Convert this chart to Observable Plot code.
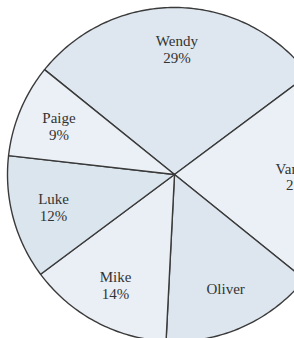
<!DOCTYPE html>
<html>
<head>
<meta charset="utf-8">
<script src="https://cdn.jsdelivr.net/npm/d3@7"></script>
<script src="https://cdn.jsdelivr.net/npm/@observablehq/plot@0.6"></script>
<style>
  html, body { margin: 0; padding: 0; background: #fff; }
  #chart svg { display: block; }
</style>
</head>
<body>
<div id="chart"></div>
<script>
// Data
const names = ["Wendy", "Vanessa", "Oliver", "Mike", "Luke", "Paige"];
const values = [29, 21, 15, 14, 12, 9];
const pctLabels = ["29%", "21%", "", "14%", "12%", "9%"];
const colors = ["#dee7ef", "#ebf0f6", "#dde6ee", "#e9eff5", "#dbe5ee", "#ebf0f6"];

// Layout
const W = 294, H = 338;
const cx = 174, cy = 174, R = 167;
const startDeg = -51.1;

const total = d3.sum(values);
const slices = [];
const labels = [];
let acc = startDeg;
names.forEach((n, i) => {
  const span = values[i] / total * 360;
  const a0 = acc, a1 = acc + span;
  acc = a1;
  slices.push({name: n, x: 0, y: 0});
  const steps = Math.max(2, Math.ceil(span));
  for (let k = 0; k <= steps; k++) {
    const a = (a0 + (a1 - a0) * k / steps) * Math.PI / 180;
    slices.push({name: n, x: Math.sin(a), y: Math.cos(a)});
  }
  const am = (a0 + a1) / 2 * Math.PI / 180;
  labels.push({
    name: n,
    x: 0.75 * Math.sin(am),
    y: 0.75 * Math.cos(am),
    text: pctLabels[i] ? n + "\n" + pctLabels[i] : n
  });
});

const chart = Plot.plot({
  width: W,
  height: H,
  margin: 0,
  x: {domain: [-cx / R, (W - cx) / R], axis: null},
  y: {domain: [-(H - cy) / R, cy / R], axis: null},
  color: {domain: names, range: colors},
  style: {background: "#fff"},
  marks: [
    Plot.line(slices, {
      x: "x", y: "y", z: "name",
      fill: "name",
      stroke: "#3a3a3a",
      strokeWidth: 1.4,
      curve: "linear-closed"
    }),
    Plot.text(labels, {
      x: "x", y: "y", text: "text",
      fontFamily: "Liberation Serif",
      fontSize: 15,
      lineHeight: 1.1,
      fill: "#333"
    })
  ]
});
document.getElementById("chart").appendChild(chart);
</script>
</body>
</html>
